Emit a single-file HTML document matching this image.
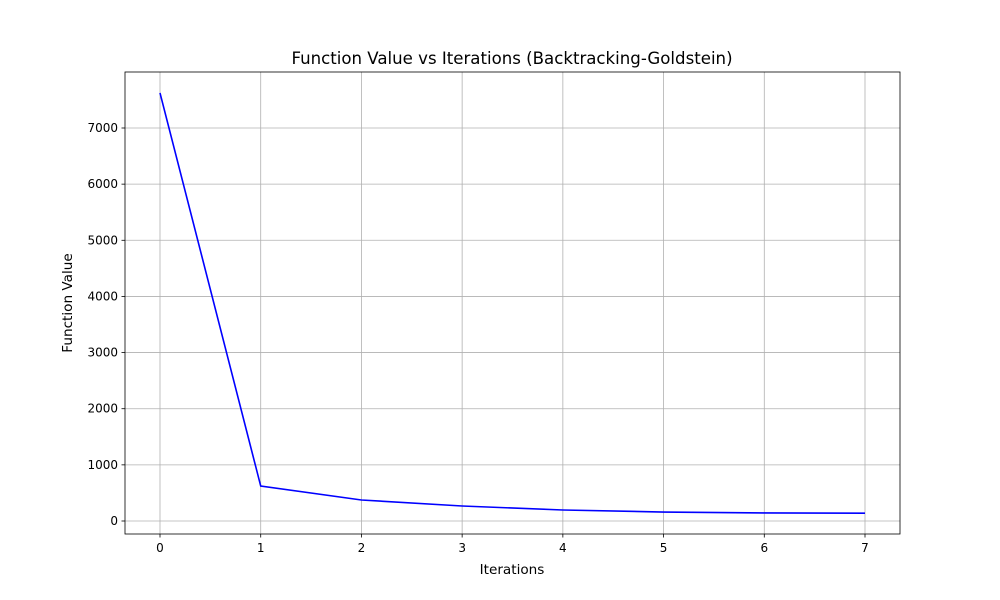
<!DOCTYPE html>
<html><head><meta charset="utf-8"><style>body{margin:0;background:#fff}svg{display:block;font-family:"DejaVu Sans","Liberation Sans",sans-serif}</style></head>
<body>
<svg id="chart" width="1000" height="600"></svg>
<script>
const iterations=[0,1,2,3,4,5,6,7];
const functionValues=[7624,623,374,267,196,160,143,140];
const xTicks=[0,1,2,3,4,5,6,7];
const yTicks=[0,1000,2000,3000,4000,5000,6000,7000];
const L=125,R=900,T=72,B=534;
const xs=v=>160+v*(865-160)/7;
const ys=v=>521-v*(521-128)/7000;
const svg=document.getElementById('chart');
const NS='http://www.w3.org/2000/svg';
function mk(t,a,p){const e=document.createElementNS(NS,t);for(const k in a)e.setAttribute(k,a[k]);(p||svg).appendChild(e);return e;}
const grid=mk('g',{});


xTicks.forEach(v=>{const x=xs(v);
mk('line',{x1:x,x2:x,y1:T,y2:B,stroke:'#b0b0b0','stroke-width':0.8},grid);
mk('line',{x1:x,x2:x,y1:B,y2:B+3.5,stroke:'#000','stroke-width':0.8});
const t=mk('text',{x:x,y:B+18,'text-anchor':'middle','font-size':12});t.textContent=v;

});
yTicks.forEach(v=>{const y=ys(v);
mk('line',{x1:L,x2:R,y1:y,y2:y,stroke:'#b0b0b0','stroke-width':0.8},grid);
mk('line',{x1:L-3.5,x2:L,y1:y,y2:y,stroke:'#000','stroke-width':0.8});
const t=mk('text',{x:L-7,y:y+4,'text-anchor':'end','font-size':12});t.textContent=v;

});
const line=mk('polyline',{points:iterations.map((d,i)=>xs(d)+','+ys(functionValues[i])).join(' '),fill:'none',stroke:'#0000ff','stroke-width':1.6});


const frame=mk('rect',{x:L,y:T,width:R-L,height:B-T,fill:'none',stroke:'#000','stroke-width':0.8});


const title=mk('text',{x:512,y:64,'text-anchor':'middle','font-size':16.6});title.textContent='Function Value vs Iterations (Backtracking-Goldstein)';


const xl=mk('text',{x:512,y:574,'text-anchor':'middle','font-size':13.6});xl.textContent='Iterations';


const yl=mk('text',{x:0,y:0,'text-anchor':'middle','font-size':13.6,transform:'translate(72,303) rotate(-90)'});yl.textContent='Function Value';


</script>
</body></html>
